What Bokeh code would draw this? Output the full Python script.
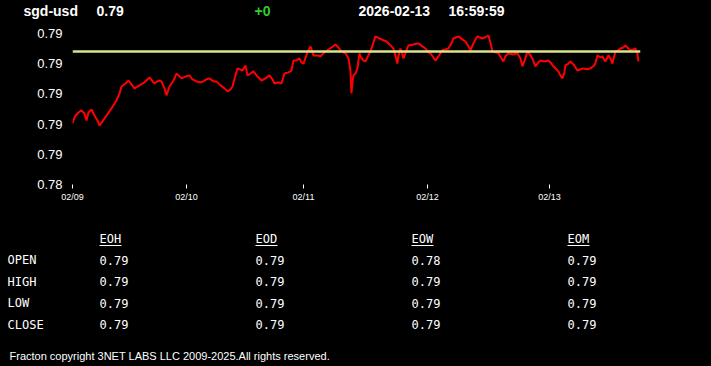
from bokeh.plotting import figure
from bokeh.models import FixedTicker, Range1d, Span, ColumnDataSource, GlobalInlineStyleSheet
from bokeh.layouts import column
from bokeh.core.properties import value
from bokeh.embed import file_html
from bokeh.resources import INLINE

# ---------------- data ----------------
symbol = "sgd-usd"
last_price = "0.79"
change = "+0"
quote_date = "2026-02-13"
quote_time = "16:59:59"

# time in hours since 02/09 session start
hours = [0.0, 0.46, 1.19, 1.79, 2.39, 2.78, 3.18, 3.78, 4.38, 4.97, 5.37, 5.97, 6.76, 7.76, 8.75, 9.35,
         9.75, 10.54, 11.14, 11.74, 12.33, 13.33, 14.32, 15.32, 16.31, 17.11, 17.70, 18.30, 18.70, 19.29,
         20.09, 20.69, 21.68, 22.48, 23.27, 23.87, 24.67, 25.46, 26.06, 26.66, 27.25, 28.05, 28.65,
         29.44, 30.24, 30.83, 31.43, 31.83, 32.42, 32.82, 33.82, 34.41, 34.81, 35.41, 36.00, 36.80, 37.60,
         38.39, 39.19, 39.78, 40.18, 40.98, 41.57, 42.17, 42.97, 43.56, 43.96, 44.56, 45.15, 45.55, 45.95,
         46.74, 47.34, 47.94, 48.73, 49.33, 50.12, 50.72, 51.52, 52.31, 52.91, 53.31, 53.90, 54.30, 54.90,
         55.29, 55.49, 55.69, 55.89, 56.29, 56.69, 57.08,
         57.28, 57.88, 58.28, 58.87, 59.27, 59.87, 60.27, 61.06, 61.86, 62.45, 62.85, 63.45, 63.85, 64.24,
         64.64, 64.84, 65.24, 65.64, 65.84, 66.43, 66.83, 67.83, 68.82, 69.62, 70.21, 70.81, 71.21, 71.80,
         72.20, 72.80, 73.59, 74.19, 74.79, 75.38, 75.78, 76.38, 76.78, 77.57, 78.17, 78.76, 79.16, 79.76,
         80.55, 81.55, 82.15, 82.74, 83.14, 83.54, 84.13, 84.73, 85.72,
         86.12, 86.72, 87.52, 88.51, 89.11, 89.51, 90.10, 90.50, 91.10, 91.49, 92.09, 92.69, 93.09, 93.88,
         94.68, 95.27, 95.67, 96.27, 96.67, 97.06, 97.46, 97.86, 98.06, 98.66, 99.05, 99.85, 100.44,
         101.04, 101.64, 102.43, 103.03, 103.63, 104.02, 104.42, 105.02, 105.41, 106.01, 106.61, 107.01,
         107.41, 108.00, 108.60, 109.00, 109.59, 109.99, 110.59, 110.99, 111.58, 111.98, 112.38, 112.58]

prices = [0.78652, 0.78675, 0.78688, 0.78695, 0.78685, 0.78662, 0.78688, 0.78698, 0.78678, 0.78662,
          0.78645, 0.78659, 0.78678, 0.78702, 0.78728, 0.78751, 0.78774, 0.78784, 0.78794, 0.78781,
          0.78768, 0.78778, 0.78788, 0.78804, 0.78784, 0.78794, 0.78791, 0.78768, 0.78745, 0.78774,
          0.78794, 0.78817, 0.78801, 0.78807, 0.78811, 0.78798, 0.78791, 0.78788, 0.78791, 0.78798,
          0.78801, 0.78791, 0.78791,
          0.78778, 0.78768, 0.78758, 0.78764, 0.78774, 0.78811, 0.78834, 0.78827, 0.78844, 0.78811,
          0.78817, 0.78824, 0.78807, 0.78794, 0.78801, 0.78811, 0.78798, 0.78784, 0.78788, 0.78784,
          0.78817, 0.78821, 0.78827, 0.78860, 0.78860, 0.78867, 0.78854, 0.78850, 0.78887, 0.78907,
          0.78877, 0.78877, 0.78874, 0.78887, 0.78894, 0.78903, 0.78913, 0.78903, 0.78894, 0.78887,
          0.78884, 0.78867, 0.78827, 0.78751, 0.78788, 0.78811, 0.78817, 0.78834, 0.78884,
          0.78874, 0.78860, 0.78857, 0.78877, 0.78890, 0.78920, 0.78940, 0.78933, 0.78927, 0.78923,
          0.78917, 0.78907, 0.78900, 0.78877, 0.78850, 0.78874, 0.78900, 0.78880, 0.78867, 0.78894,
          0.78910, 0.78913, 0.78917, 0.78907, 0.78900, 0.78887, 0.78884, 0.78870, 0.78860, 0.78874,
          0.78894, 0.78897, 0.78900, 0.78917, 0.78933, 0.78937, 0.78940, 0.78930, 0.78923, 0.78907,
          0.78894, 0.78917, 0.78940, 0.78933, 0.78937, 0.78943, 0.78920, 0.78890, 0.78887, 0.78884,
          0.78857,
          0.78874, 0.78884, 0.78880, 0.78884, 0.78867, 0.78841, 0.78867, 0.78890, 0.78877, 0.78867,
          0.78841, 0.78854, 0.78860, 0.78857, 0.78860, 0.78850, 0.78841, 0.78831, 0.78824, 0.78811,
          0.78801, 0.78821, 0.78844, 0.78850, 0.78857, 0.78844, 0.78827, 0.78831, 0.78834, 0.78831,
          0.78834, 0.78841, 0.78850, 0.78877, 0.78870, 0.78874, 0.78857, 0.78877, 0.78867, 0.78850,
          0.78890, 0.78894, 0.78900, 0.78903, 0.78910, 0.78900, 0.78894, 0.78897, 0.78900, 0.78884,
          0.78857]

ref_level = 0.78890

x_ticks = [0.0, 22.67, 45.95, 70.61, 94.88]
x_labels = ["02/09", "02/10", "02/11", "02/12", "02/13"]
y_ticks = [0.7845, 0.7855, 0.7865, 0.7875, 0.7885, 0.7895]
y_labels = ["0.78", "0.79", "0.79", "0.79", "0.79", "0.79"]

table_cols = ["EOH", "EOD", "EOW", "EOM"]
table_rows = ["OPEN", "HIGH", "LOW", "CLOSE"]
eoh = ["0.79", "0.79", "0.79", "0.79"]
eod = ["0.79", "0.79", "0.79", "0.79"]
eow = ["0.78", "0.79", "0.79", "0.79"]
eom = ["0.79", "0.79", "0.79", "0.79"]

footer = "Fracton copyright 3NET LABS LLC 2009-2025.All rights reserved."

BG = "#000000"
W = 711


def blank(height, y0, y1):
    f = figure(width=W, height=height, x_range=Range1d(0, W), y_range=Range1d(y1, y0),
               output_backend="svg", toolbar_location=None, min_border=0, frame_align=False)
    f.axis.visible = False
    f.grid.visible = False
    f.outline_line_color = None
    f.background_fill_color = BG
    f.border_fill_color = BG
    return f


# ---------------- header ----------------
hdr = blank(20, 0, 20)
hdr_src = ColumnDataSource(dict(
    x=[23, 96, 254, 358, 448],
    y=[10, 10, 10, 10, 10],
    t=[symbol, last_price, change, quote_date, quote_time],
    c=["#ffffff", "#ffffff", "#33cc33", "#ffffff", "#ffffff"],
))
hdr.text(x="x", y="y", text="t", text_color="c", source=hdr_src,
         text_font=value("Liberation Sans"), text_font_style="bold",
         text_font_size="14px", text_baseline="middle", text_align="left")

# ---------------- chart ----------------
p = figure(width=W, height=192, output_backend="svg", toolbar_location=None,
           x_range=Range1d(0, 113), y_range=Range1d(0.7845, 0.78966), frame_align=False,
           min_border_left=72, min_border_right=71, min_border_top=8, min_border_bottom=28)
p.background_fill_color = BG
p.border_fill_color = BG
p.outline_line_color = None
p.grid.visible = False

p.line(hours, prices, line_color="#ff0000", line_width=2)
p.add_layout(Span(location=ref_level, dimension="width", line_color="#d8e38c", line_width=2.5))

p.xaxis.ticker = FixedTicker(ticks=x_ticks)
p.xaxis.major_label_overrides = dict(zip(x_ticks, x_labels))
p.xaxis.axis_line_color = None
p.xaxis.major_tick_line_color = "#ffffff"
p.xaxis.major_tick_in = 0
p.xaxis.major_tick_out = 4
p.xaxis.minor_tick_line_color = None
p.xaxis.major_label_standoff = 3
p.xaxis.major_label_text_color = "#ffffff"
p.xaxis.major_label_text_font = "Liberation Sans"
p.xaxis.major_label_text_font_size = "9px"

p.yaxis.ticker = FixedTicker(ticks=y_ticks)
p.yaxis.major_label_overrides = dict(zip(y_ticks, y_labels))
p.yaxis.axis_line_color = None
p.yaxis.major_tick_line_color = None
p.yaxis.major_tick_in = 0
p.yaxis.major_tick_out = 0
p.yaxis.minor_tick_line_color = None
p.yaxis.major_label_standoff = 10
p.yaxis.major_label_text_color = "#ffffff"
p.yaxis.major_label_text_font = "Liberation Sans"
p.yaxis.major_label_text_font_size = "13px"

# ---------------- table ----------------
tbl = blank(154, 212, 366)
col_x = [99, 255, 411, 567]
row_y = [259.5, 281, 302.5, 324]
mono = value("DejaVu Sans Mono")

tbl.text(x=col_x, y=[238.5] * 4, text=table_cols, text_color="#ffffff", text_font=mono,
         text_font_size="12px", text_baseline="middle", text_align="left")
tbl.segment(x0=col_x, y0=[245] * 4, x1=[cx + 22 for cx in col_x], y1=[245] * 4,
            line_color="#ffffff", line_width=1)
tbl.text(x=[7] * 4, y=row_y, text=table_rows, text_color="#ffffff", text_font=mono,
         text_font_size="12px", text_baseline="middle", text_align="left")
for cx, vals in zip(col_x, [eoh, eod, eow, eom]):
    tbl.text(x=[cx] * 4, y=row_y, text=vals, text_color="#ffffff", text_font=mono,
             text_font_size="12px", text_baseline="middle", text_align="left")
tbl.text(x=[9], y=[355], text=[footer], text_color="#ffffff", text_font=value("Liberation Sans"),
         text_font_size="11px", text_baseline="middle", text_align="left")

layout = column(hdr, p, tbl, spacing=0)
layout.stylesheets = [GlobalInlineStyleSheet(css="html, body { margin: 0 !important; padding: 0; background: #000000; }")]

open("out.html", "w").write(file_html(layout, INLINE))
